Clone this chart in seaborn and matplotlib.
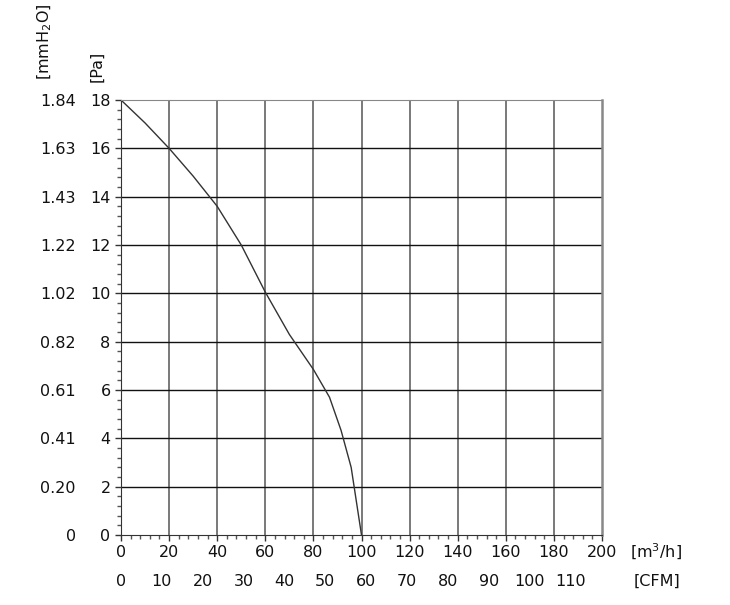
import seaborn as sns
import matplotlib.pyplot as plt
from matplotlib.ticker import MultipleLocator
import pandas as pd

# fan curve
flow_m3h = [0, 10, 20, 30, 40, 50, 60, 70, 80, 86.7, 91.5, 95.7, 100]
pressure_pa = [18, 17.05, 16.0, 14.85, 13.6, 12.0, 10.05, 8.3, 6.85, 5.7, 4.33, 2.8, 0]

pa_ticks = [0, 2, 4, 6, 8, 10, 12, 14, 16, 18]
mmh2o_labels = ["0", "0.20", "0.41", "0.61", "0.82", "1.02", "1.22", "1.43", "1.63", "1.84"]
m3h_ticks = [0, 20, 40, 60, 80, 100, 120, 140, 160, 180, 200]
cfm_ticks = [0, 10, 20, 30, 40, 50, 60, 70, 80, 90, 100, 110]
CFM_TO_M3H = 1.699

sns.set_style("white")
plt.rcParams['font.family'] = ['DejaVu Sans']
FS = 11.5

df = pd.DataFrame({"flow": flow_m3h, "pressure": pressure_pa})

fig = plt.figure(figsize=(7.3, 6.05), dpi=100)
ax = fig.add_axes([121/730, 70/605, 481/730, 435/605])

sns.lineplot(data=df, x="flow", y="pressure", ax=ax, color="#333333", linewidth=1.0)

ax.set_xlim(0, 200)
ax.set_ylim(0, 18)
ax.set_xticks(m3h_ticks)
ax.set_yticks(pa_ticks)
ax.xaxis.set_minor_locator(MultipleLocator(4))
ax.yaxis.set_minor_locator(MultipleLocator(0.4))

for x in m3h_ticks[1:-1]:
    ax.axvline(x, color="#555555", linewidth=1.1, zorder=0)
for y in pa_ticks[1:-1]:
    ax.axhline(y, color="#111111", linewidth=1.0, zorder=0)

ax.spines['left'].set_color("#333333")
ax.spines['bottom'].set_color("#333333")
ax.spines['top'].set_color("#888888")
ax.spines['right'].set_color("#888888")
ax.spines['right'].set_linewidth(1.8)

ax.tick_params(axis='both', which='both', bottom=True, left=True, top=False, right=False)
ax.tick_params(axis='both', which='major', direction='out', length=4.5, width=1, color="#333333",
               labelsize=FS, labelcolor="#111111", pad=3)
ax.tick_params(axis='both', which='minor', direction='out', length=3, width=1, color="#555555")
ax.set_xlabel("")
ax.set_ylabel("")

# mmH2O column
sec_y = ax.secondary_yaxis(-0.085)
sec_y.set_yticks(pa_ticks)
sec_y.set_yticklabels(mmh2o_labels)
sec_y.yaxis.set_minor_locator(plt.NullLocator())
sec_y.tick_params(length=0, labelsize=FS, labelcolor="#111111", pad=3)
sec_y.spines['left'].set_visible(False)

# CFM row
sec_x = ax.secondary_xaxis(-0.08, functions=(lambda v: v / CFM_TO_M3H, lambda v: v * CFM_TO_M3H))
sec_x.set_xticks(cfm_ticks)
sec_x.xaxis.set_minor_locator(plt.NullLocator())
sec_x.tick_params(length=0, labelsize=FS, labelcolor="#111111", pad=3)
sec_x.spines['bottom'].set_visible(False)

fig.text(45/730, 1 - 42/605, "[mmH$_2$O]", rotation=90, ha='center', va='center', fontsize=FS, color="#111111")
fig.text(97/730, 1 - 66/605, "[Pa]", rotation=90, ha='center', va='center', fontsize=FS, color="#111111")
fig.text(630/730, 1 - 552/605, "[m$^3$/h]", ha='left', va='center', fontsize=FS, color="#111111")
fig.text(634/730, 1 - 581/605, "[CFM]", ha='left', va='center', fontsize=FS, color="#111111")

fig.savefig("out.png", dpi=100)
